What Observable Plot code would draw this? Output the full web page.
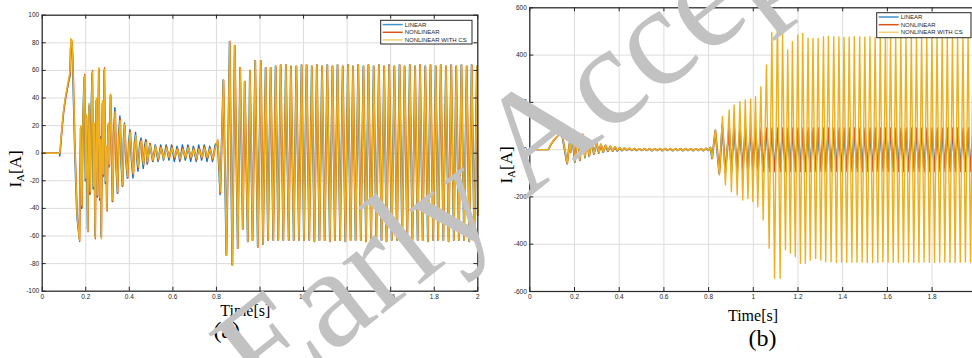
<!DOCTYPE html>
<html>
<head>
<meta charset="utf-8">
<script src="https://cdn.jsdelivr.net/npm/d3@7"></script>
<script src="https://cdn.jsdelivr.net/npm/@observablehq/plot@0.6"></script>
<style>
  html, body { margin: 0; padding: 0; background: #fff; }
  #fig { position: relative; width: 972px; height: 358px; overflow: hidden; background: #fff; }
  .panel { position: absolute; top: 0; }
  .panel svg { max-width: none !important; }
  #overlay { position: absolute; left: 0; top: 0; pointer-events: none; }
</style>
</head>
<body>
<div id="fig">
  <div class="panel" id="pa" style="left:0px;width:490px;height:310px"></div>
  <div class="panel" id="pb" style="left:490px;width:496px;height:310px"></div>
  <svg id="overlay" width="972" height="358"></svg>
</div>
<script>
// ---------- shared ----------
const seriesNames = ["LINEAR", "NONLINEAR", "NONLINEAR WITH CS"];
const seriesColors = ["#0072BD", "#D95319", "#EDB120"];
const seriesLag = [-0.0012, 0.0012, 0]; // tiny phase offsets between the overlapping traces
const xLabel = "Time[s]";
const panelTags = ["(a)", "(b)"];
const watermark = "Early Accepted";

// ---------- panel (a) ----------
const aXTicks = [0, 0.2, 0.4, 0.6, 0.8, 1, 1.2, 1.4, 1.6, 1.8, 2];
const aYTicks = [-100, -80, -60, -40, -20, 0, 20, 40, 60, 80, 100];

const aTransTime = [
  0, 0.080, 0.082, 0.090, 0.099, 0.108, 0.118, 0.124, 0.128, 0.131,
  0.136, 0.140, 0.150, 0.160, 0.171, 0.177, 0.182, 0.188, 0.194, 0.199,
  0.203, 0.209, 0.215, 0.220, 0.225, 0.230, 0.235, 0.239, 0.243, 0.249,
  0.254, 0.257, 0.260, 0.265, 0.268, 0.271, 0.277, 0.281, 0.285, 0.291,
  0.294, 0.297, 0.303, 0.308, 0.314, 0.319, 0.323, 0.329, 0.335, 0.340,
  0.346, 0.352, 0.358, 0.363, 0.369, 0.374, 0.379, 0.385, 0.392, 0.398,
  0.404, 0.411, 0.418, 0.424, 0.430, 0.436, 0.441, 0.448, 0.455, 0.460,
  0.465, 0.471, 0.477, 0.483, 0.495, 0.508, 0.520, 0.533, 0.545, 0.558,
  0.570, 0.583, 0.595, 0.608, 0.620, 0.633, 0.645, 0.658, 0.670, 0.683,
  0.695, 0.708, 0.720, 0.733, 0.745, 0.758, 0.770, 0.783, 0.795, 0.806,
  0.818
];
const aTransLinear = [
  0, 0, -2, 15, 30, 40, 48, 53, 55, 76,
  78, 68, 3, -45, -62, 18, -40, 28, 55, -20,
  26, -55, 34, -30, 27, 58, -26, 20, -60, 38,
  -32, 18, 60, -34, 12, -60, 36, -17, 60, -22,
  3, -40, 20, -10, 42, 6, -35, 16, 33, -10,
  -29, 14, 27, -7, -24, 10, 22, -6, -18, 8,
  17, -6, -18, 7, 15, -5, -13, 6, 11, -4,
  -11, 5, 10, -8, 7, -6, 6, -6, 6, -5,
  6, -5, 6, -6, 5, -6, 6, -5, 6, -6,
  5, -6, 6, -5, 6, -6, 5, -6, 6, 8,
  -30
];
const aTransNonlinear = [
  0, 0, 2, 17, 32, 41, 50, 55, 58, 79,
  81, 69, 4, -44, -64, 19, -39, 29, 57, -19,
  27, -57, 35, -29, 26, 60, -25, 21, -62, 39,
  -31, 19, 61, -33, 11, -61, 37, -16, 62, -21,
  4, -42, 21, -9, 42, 7, -35, 15, 31, -9,
  -29, 13, 25, -6, -24, 9, 20, -5, -18, 7,
  16, -5, -16, 6, 12, -4, -11, 5, 10, -3,
  -9, 4, 9, -7, 7, -6, 5, -5, 5, -4,
  5, -4, 5, -4, 4, -5, 4, -4, 5, -4,
  4, -5, 4, -4, 5, -4, 4, -5, 5, 9,
  -29
];
const aTransWithCS = [
  0, 0, 3, 18, 33, 42, 51, 56, 60, 83,
  82, 70, 5, -45, -63, 20, -38, 30, 56, -18,
  28, -56, 36, -28, 25, 59, -24, 22, -61, 40,
  -30, 20, 62, -32, 10, -62, 38, -15, 61, -20,
  5, -41, 22, -8, 43, 8, -34, 14, 30, -8,
  -28, 12, 24, -5, -23, 8, 21, -4, -17, 6,
  15, -4, -15, 5, 13, -3, -10, 4, 9, -2,
  -8, 3, 8, -6, 6, -5, 5, -4, 4, -4,
  4, -3, 4, -3, 3, -4, 3, -3, 4, -3,
  3, -4, 3, -3, 4, -3, 3, -4, 4, 10,
  -28
];
// after the second disturbance the three traces coincide
const aSteadyTime = [
  0.832, 0.846, 0.861, 0.873, 0.884, 0.898, 0.909, 0.921, 0.930, 0.944,
  0.954, 0.966, 0.978, 0.990, 1.004, 1.014, 1.026, 1.037, 1.049, 1.061,
  1.072, 1.084, 1.095, 1.107, 1.119, 1.132, 1.142, 1.155, 1.167, 1.179,
  1.191, 1.202, 1.214, 1.226, 1.238, 1.250, 1.261, 1.273, 1.285, 1.297,
  1.309, 1.321, 1.333, 1.344, 1.356, 1.368, 1.380, 1.392, 1.404, 1.416,
  1.427, 1.439, 1.451, 1.463, 1.475, 1.487, 1.498, 1.510, 1.522, 1.534,
  1.546, 1.558, 1.570, 1.581, 1.593, 1.605, 1.617, 1.629, 1.641, 1.653,
  1.664, 1.676, 1.688, 1.700, 1.712, 1.724, 1.735, 1.747, 1.759, 1.771,
  1.783, 1.795, 1.807, 1.818, 1.830, 1.842, 1.854, 1.866, 1.878, 1.890,
  1.901, 1.913, 1.925, 1.937, 1.949, 1.961, 1.972, 1.984, 1.996, 2.000
];
const aSteadyValue = [
  53, -74, 81, -81, 78, -69, 62, -55, 52, -64,
  60, -63, 67, -68, 67, -66, 62, -63, 62, -63,
  63, -63, 64, -63, 64, -63, 63, -63, 63, -63,
  64, -63, 64, -63, 63, -64, 64, -63, 63, -63,
  64, -64, 63, -63, 64, -63, 63, -64, 64, -63,
  63, -63, 64, -63, 63, -64, 64, -63, 63, -63,
  64, -63, 63, -64, 64, -63, 63, -63, 64, -63,
  63, -64, 64, -63, 63, -63, 64, -63, 63, -64,
  64, -63, 63, -63, 64, -63, 63, -64, 64, -63,
  63, -63, 64, -63, 63, -64, 64, -63, 63, -45
];

// ---------- panel (b) ----------
const bXTicks = [0, 0.2, 0.4, 0.6, 0.8, 1, 1.2, 1.4, 1.6, 1.8];
const bYTicks = [-600, -400, -200, 0, 200, 400, 600];

const bTransTime = [
  0, 0.083, 0.095, 0.110, 0.125, 0.133, 0.145, 0.167, 0.178, 0.183,
  0.190, 0.202, 0.214, 0.224, 0.236, 0.247, 0.255, 0.266, 0.276, 0.287,
  0.299, 0.309, 0.318, 0.329, 0.339, 0.350, 0.360, 0.371, 0.381, 0.392,
  0.402, 0.413, 0.424, 0.435, 0.446, 0.457, 0.468, 0.479, 0.490, 0.502,
  0.513, 0.525, 0.536, 0.548, 0.559, 0.571, 0.582, 0.594, 0.605, 0.617,
  0.628, 0.640, 0.651, 0.663, 0.674, 0.686, 0.697, 0.709, 0.720, 0.732,
  0.743, 0.755, 0.766, 0.778, 0.789, 0.800, 0.808, 0.816
];
const bTransLinear = [
  0, 0, 22, 42, 57, 74, 60, -60, 28, -12,
  57, -53, 60, -46, 64, -34, 42, -29, 35, -20,
  28, -15, 22, -11, 18, -8, 14, -7, 11, -6,
  9, -5, 7, -4, 6, -4, 5, -4, 4, -4,
  4, -4, 4, -5, 4, -4, 4, -5, 4, -4,
  4, -5, 4, -4, 4, -5, 4, -4, 4, -5,
  4, -4, 4, -5, 5, -4, 9, -38
];
const bTransNonlinear = [
  0, 0, 24, 44, 59, 77, 61, -59, 29, -11,
  58, -52, 61, -45, 65, -33, 43, -28, 36, -19,
  29, -14, 23, -10, 19, -7, 15, -6, 12, -5,
  9, -4, 7, -3, 6, -3, 5, -3, 4, -3,
  5, -3, 5, -4, 5, -3, 5, -4, 5, -3,
  5, -4, 5, -3, 5, -4, 5, -3, 5, -4,
  5, -3, 5, -4, 6, -3, 10, -37
];
const bTransWithCS = [
  0, 0, 25, 45, 60, 78, 62, -58, 30, -10,
  59, -51, 62, -44, 66, -32, 44, -27, 37, -18,
  30, -13, 24, -9, 20, -6, 16, -5, 13, -4,
  10, -3, 8, -2, 7, -2, 5, -2, 4, -3,
  5, -3, 5, -4, 5, -3, 5, -4, 5, -3,
  5, -4, 5, -3, 5, -4, 5, -3, 5, -4,
  5, -3, 5, -4, 6, -3, 10, -36
];
const bSteadyTime = [
  0.830, 0.848, 0.862, 0.875, 0.892, 0.902, 0.914, 0.928, 0.940, 0.953,
  0.964, 0.976, 0.988, 0.998, 1.010, 1.020, 1.034, 1.044, 1.059, 1.071,
  1.083, 1.095, 1.108, 1.120, 1.131, 1.144, 1.154, 1.166, 1.175, 1.188,
  1.199, 1.211, 1.221, 1.233, 1.245, 1.255, 1.267, 1.279, 1.290, 1.302,
  1.314, 1.324, 1.336, 1.348, 1.360, 1.372, 1.383, 1.395, 1.406, 1.418,
  1.429, 1.441, 1.452, 1.464, 1.476, 1.487, 1.499, 1.510, 1.522, 1.534,
  1.545, 1.557, 1.568, 1.580, 1.591, 1.603, 1.614, 1.626, 1.637, 1.649,
  1.660, 1.672, 1.683, 1.695, 1.707, 1.718, 1.730, 1.741, 1.753, 1.764,
  1.776, 1.788, 1.799, 1.811, 1.822, 1.834, 1.845, 1.857, 1.868, 1.880,
  1.891, 1.903, 1.914, 1.926, 1.938, 1.949, 1.961, 1.972, 1.984, 1.995
];
const bSteadyLinear = [
  80, -102, 108, -98, 92, -88, 85, -80, 78, -76,
  75, -76, 75, -76, 75, -76, 75, -76, 75, -76,
  75, -76, 75, -76, 75, -76, 75, -76, 75, -76,
  75, -76, 75, -76, 75, -76, 75, -76, 75, -76,
  75, -76, 75, -76, 75, -76, 75, -76, 75, -76,
  75, -76, 75, -76, 75, -76, 75, -76, 75, -76,
  75, -76, 75, -76, 75, -76, 75, -76, 75, -76,
  75, -76, 75, -76, 75, -76, 75, -76, 75, -76,
  75, -76, 75, -76, 75, -76, 75, -76, 75, -76,
  75, -76, 75, -76, 75, -76, 75, -76, 75, -76
];
const bSteadyNonlinear = [
  83, -100, 95, -93, 92, -93, 92, -93, 92, -93,
  92, -93, 92, -93, 92, -93, 92, -93, 92, -93,
  92, -93, 92, -93, 92, -93, 92, -93, 92, -93,
  92, -93, 92, -93, 92, -93, 92, -93, 92, -93,
  92, -93, 92, -93, 92, -93, 92, -93, 92, -93,
  92, -93, 92, -93, 92, -93, 92, -93, 92, -93,
  92, -93, 92, -93, 92, -93, 92, -93, 92, -93,
  92, -93, 92, -93, 92, -93, 92, -93, 92, -93,
  92, -93, 92, -93, 92, -93, 92, -93, 92, -93,
  92, -93, 92, -93, 92, -93, 92, -93, 92, -93
];
const bSteadyWithCS = [
  83, -107, 140, -149, 168, -178, 189, -192, 203, -213,
  210, -207, 214, -220, 224, -241, 266, -297, 358, -417,
  495, -544, 570, -544, 492, -424, 422, -438, 457, -452,
  485, -481, 492, -481, 471, -467, 470, -460, 470, -467,
  478, -474, 480, -474, 478, -476, 477, -476, 475, -477,
  476, -475, 478, -476, 477, -475, 476, -477, 478, -476,
  475, -476, 477, -475, 478, -476, 476, -477, 475, -476,
  477, -475, 476, -476, 478, -477, 475, -476, 477, -475,
  476, -477, 478, -476, 475, -476, 477, -475, 476, -477,
  478, -476, 475, -476, 477, -475, 476, -477, 478, -476
];

// ---------- helpers ----------
function rows(times, values, lag) {
  return times.map((t, i) => ({t: t + lag, v: values[i]}));
}
function traces(parts) {
  return parts.map((segs, k) =>
    segs.flatMap(([ts, vs]) => rows(ts, vs, seriesLag[k])));
}

const aData = traces([
  [[aTransTime, aTransLinear], [aSteadyTime, aSteadyValue]],
  [[aTransTime, aTransNonlinear], [aSteadyTime, aSteadyValue]],
  [[aTransTime, aTransWithCS], [aSteadyTime, aSteadyValue]]
]);
const bData = traces([
  [[bTransTime, bTransLinear], [bSteadyTime, bSteadyLinear]],
  [[bTransTime, bTransNonlinear], [bSteadyTime, bSteadyNonlinear]],
  [[bTransTime, bTransWithCS], [bSteadyTime, bSteadyWithCS]]
]);

const INK = "#262626";

function panel({width, height, mL, mR, mT, mB, xDomain, yDomain, xTicks, yTicks, data}) {
  const plotW = width - mL - mR, plotH = height - mT - mB;
  const tl = 4;
  const fmt = d => String(d);
  const svg = Plot.plot({
    width, height,
    marginLeft: mL, marginRight: mR, marginTop: mT, marginBottom: mB,
    x: {domain: xDomain},
    y: {domain: yDomain},
    style: {background: "transparent", fontFamily: "'Liberation Sans', Arial, sans-serif", overflow: "visible", color: INK, maxWidth: "none"},
    marks: [
      Plot.gridX(xTicks, {stroke: "#dcdcdc", strokeOpacity: 1, strokeWidth: 1}),
      Plot.gridY(yTicks, {stroke: "#dcdcdc", strokeOpacity: 1, strokeWidth: 1}),
      ...data.map((d, k) => Plot.line(d, {x: "t", y: "v", stroke: seriesColors[k], strokeWidth: 1.4})),
      Plot.frame({stroke: INK, strokeWidth: 1.2}),
      Plot.tickX(xTicks, {insetTop: plotH - tl, stroke: INK}),
      Plot.tickX(xTicks, {insetBottom: plotH - tl, stroke: INK}),
      Plot.tickY(yTicks, {insetRight: plotW - tl, stroke: INK}),
      Plot.tickY(yTicks, {insetLeft: plotW - tl, stroke: INK}),
      Plot.axisX(xTicks, {anchor: "bottom", tickSize: 0, tickPadding: 3, tickFormat: fmt, fontSize: 6.5, fill: INK, label: null}),
      Plot.axisY(yTicks, {anchor: "left", tickSize: 0, tickPadding: 3, tickFormat: fmt, fontSize: 6.5, fill: INK, label: null})
    ]
  });
  svg.style.maxWidth = "none";
  svg.setAttribute("width", width);
  svg.setAttribute("height", height);
  return svg;
}

function legend(svg, x, y, w, h) {
  const g = d3.select(svg).append("g").attr("text-anchor", "start");
  g.append("rect").attr("x", x).attr("y", y).attr("width", w).attr("height", h)
    .attr("fill", "#fff").attr("stroke", INK).attr("stroke-width", 1);
  const offs = [4.3, 12, 19.6];
  seriesNames.forEach((name, k) => {
    const yy = y + offs[k];
    g.append("line").attr("x1", x + 2).attr("x2", x + 22).attr("y1", yy).attr("y2", yy)
      .attr("stroke", seriesColors[k]).attr("stroke-width", 1.5)
      .attr("stroke-opacity", k === 1 ? 1 : (k === 0 ? 0.75 : 0.6));
    g.append("text").attr("x", x + 24).attr("y", yy).attr("dy", "0.35em")
      .attr("text-anchor", "start")
      .attr("font-family", "'Liberation Sans', Arial, sans-serif").attr("font-size", 6)
      .attr("fill", INK).text(name);
  });
}

const svgA = panel({width: 490, height: 310, mL: 41.7, mR: 12.7, mT: 14.7, mB: 19.3,
  xDomain: [0, 2], yDomain: [-100, 100], xTicks: aXTicks, yTicks: aYTicks, data: aData});
legend(svgA, 380.7, 20.3, 91.3, 23.7);
document.getElementById("pa").appendChild(svgA);

const svgB = panel({width: 496, height: 310, mL: 39.3, mR: 9.7, mT: 7.3, mB: 19,
  xDomain: [0, 2], yDomain: [-600, 600], xTicks: bXTicks, yTicks: bYTicks, data: bData});
legend(svgB, 386.7, 12.7, 94.3, 25);
document.getElementById("pb").appendChild(svgB);

// ---------- titles, labels, watermark ----------
const ov = d3.select("#overlay");
const serif = "'Liberation Serif', 'Times New Roman', serif";
function ylab(x, y) {
  const t = ov.append("text").attr("transform", `translate(${x},${y}) rotate(-90)`)
    .attr("text-anchor", "middle").attr("font-family", serif).attr("font-size", 17).attr("fill", "#000");
  t.append("tspan").text("I");
  t.append("tspan").attr("font-size", 11).attr("dy", 3).text("A");
  t.append("tspan").attr("dy", -3).text("[A]");
}
ylab(20.5, 169);
ylab(512, 165);
ov.append("text").attr("x", 245.3).attr("y", 315.6).attr("text-anchor", "middle")
  .attr("font-family", serif).attr("font-size", 16).text(xLabel);
ov.append("text").attr("x", 753).attr("y", 320.6).attr("text-anchor", "middle")
  .attr("font-family", serif).attr("font-size", 16).text(xLabel);
ov.append("text").attr("x", 226.7).attr("y", 338).attr("text-anchor", "middle")
  .attr("font-family", serif).attr("font-size", 24).text(panelTags[0]);
ov.append("text").attr("x", 762.5).attr("y", 346.4).attr("text-anchor", "middle")
  .attr("font-family", serif).attr("font-size", 24).text(panelTags[1]);
ov.append("text").attr("transform", "translate(263,409) rotate(-38.5)")
  .attr("font-family", serif).attr("font-size", 142).attr("fill", "#c2c2c2").text(watermark);
</script>
</body>
</html>
